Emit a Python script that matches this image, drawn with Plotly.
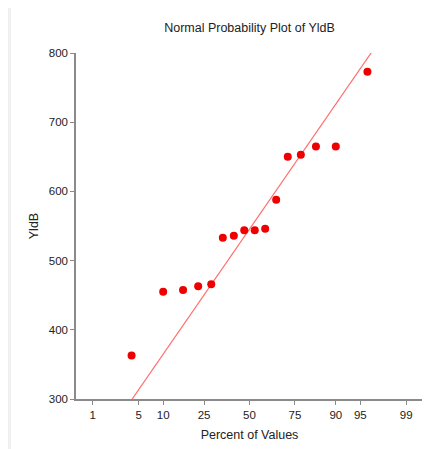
from statistics import NormalDist
import plotly.graph_objects as go

# Data
yldb = [363, 455, 457.5, 463, 466, 533, 536, 544, 544, 546, 588, 650, 653, 665, 665, 773]
pct_values = [4.0, 10.0, 16.2, 22.3, 28.5, 34.6, 40.8, 46.9, 53.1, 59.2, 65.4, 71.5, 77.7, 83.8, 90.0, 96.0]
tick_pcts = [1, 5, 10, 25, 50, 75, 90, 95, 99]
y_ticks = [300, 400, 500, 600, 700, 800]
fit_center = 545.5
fit_spread = 141.0

nd = NormalDist()
def z(p):
    return nd.inv_cdf(p / 100.0)

x_pts = [z(p) for p in pct_values]
x_lo, x_hi = z(0.5), z(99.5)
line_x = [x_lo, x_hi]
line_y = [fit_center + fit_spread * v for v in line_x]

FONT = "Liberation Sans, Arial, sans-serif"
AXIS_COL = "#8a8a8a"
TXT = "#222"

fig = go.Figure()
fig.add_trace(go.Scatter(
    x=line_x, y=line_y, mode="lines",
    line=dict(color="#ff7070", width=1.2),
    hoverinfo="skip", showlegend=False,
))
fig.add_trace(go.Scatter(
    x=x_pts, y=yldb, mode="markers",
    marker=dict(color="#ee0000", size=8),
    showlegend=False,
))

# thin grey strip on the far left, like the page edge in the reference
fig.add_shape(type="rect", xref="paper", yref="paper",
              x0=-0.25, x1=-0.1873, y0=-0.3, y1=1.3,
              fillcolor="#f0f0f0", line_width=0, layer="below")

fig.update_layout(
    width=430, height=449,
    margin=dict(l=68, r=15, t=45, b=58),
    paper_bgcolor="white", plot_bgcolor="white",
    font=dict(family=FONT, size=11.5, color=TXT),
    title=dict(text="Normal Probability Plot of YldB", x=0.5, xref="paper",
               y=1 - 20 / 449, yanchor="middle", font=dict(size=12.5, color=TXT)),
)
fig.update_xaxes(
    range=[x_lo, x_hi], tickmode="array",
    tickvals=[z(p) for p in tick_pcts], ticktext=[str(p) for p in tick_pcts],
    showgrid=False, zeroline=False,
    showline=True, linecolor=AXIS_COL, linewidth=1.5,
    ticks="outside", ticklen=4, tickcolor=AXIS_COL, tickwidth=1,
    tickfont=dict(size=11.5, color=TXT),
    title=dict(text="Percent of Values", font=dict(size=12.5, color=TXT), standoff=11),
)
fig.update_yaxes(
    range=[300, 800], tickmode="array", tickvals=y_ticks,
    showgrid=False, zeroline=False,
    showline=True, linecolor=AXIS_COL, linewidth=1.5,
    ticks="outside", ticklen=4, tickcolor=AXIS_COL, tickwidth=1,
    tickfont=dict(size=11.5, color=TXT),
    title=dict(text="YldB", font=dict(size=12.5, color=TXT), standoff=7),
)

fig.write_html("out.html")
